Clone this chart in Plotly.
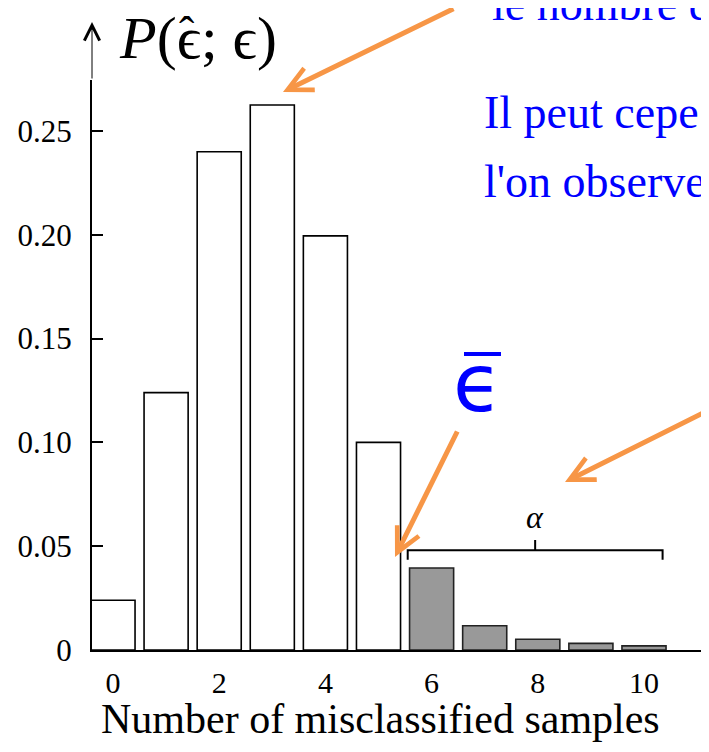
import plotly.graph_objects as go

# ---- data ----
counts = [0, 1, 2, 3, 4, 5, 6, 7, 8, 9, 10]
probs = [0.024, 0.124, 0.240, 0.2625, 0.1995, 0.100, 0.0395, 0.0117, 0.0052, 0.0032, 0.0020]
tail_start = 6
y_tickvals = [0, 0.05, 0.10, 0.15, 0.20, 0.25]
y_ticktext = ["0", "0.05", "0.10", "0.15", "0.20", "0.25"]
x_tickvals = [0, 2, 4, 6, 8, 10]
x_ticktext = ["0", "2", "4", "6", "8", "10"]

# the page body adds an 8px margin on each side: lay the figure out in screen pixels minus 8
S = 8
W, H = 709 - S, 752 - 2 * S
L, R, T = 92 - S, 0, 80 - S
B = H - (650 - S)
PW, PH = W - L - R, H - T - B

def px(x):
    return (x - S - L) / PW

def py(y):
    return (H - B - (y - S)) / PH

SERIF = "Liberation Serif, DejaVu Serif, serif"
ORANGE = "#F79646"
BLUE = "#0000FF"

body_x = [c for c, p in zip(counts, probs) if c < tail_start]
body_y = [p for c, p in zip(counts, probs) if c < tail_start]
tail_x = [c for c, p in zip(counts, probs) if c >= tail_start]
tail_y = [p for c, p in zip(counts, probs) if c >= tail_start]

fig = go.Figure()
fig.add_trace(go.Bar(x=body_x, y=body_y, width=0.83,
                     marker=dict(color="white", line=dict(color="black", width=1.6)),
                     showlegend=False, hoverinfo="skip"))
fig.add_trace(go.Bar(x=tail_x, y=tail_y, width=0.83,
                     marker=dict(color="#999999", line=dict(color="#222222", width=1.6)),
                     showlegend=False, hoverinfo="skip"))

# alpha bracket over the tail bars
bx0, bx1, bm = 5.55, 10.35, 7.95
by, bdown, bup = 0.048, 0.0435, 0.053
fig.add_shape(type="path",
              path=f"M {bx0},{bdown} L {bx0},{by} L {bx1},{by} L {bx1},{bdown} M {bm},{by} L {bm},{bup}",
              xref="x", yref="y", line=dict(color="black", width=2))

annotations = []
# alpha label
annotations.append(dict(x=bm, y=0.064, xref="x", yref="y", text="<i>α</i>", showarrow=False,
                        font=dict(family=SERIF, size=32, color="black")))
# y axis arrow extension
annotations.append(dict(x=px(92), y=py(22), ax=0, ay=58, xref="paper", yref="paper",
                        text="", showarrow=True, arrowhead=5, arrowsize=3, arrowwidth=1,
                        arrowcolor="black"))
# P label (hat drawn separately above the first epsilon)
annotations.append(dict(x=px(117), y=py(38), xref="paper", yref="paper", xanchor="left", yanchor="middle",
                        text="<i>P</i>(ϵ; ϵ)", showarrow=False,
                        font=dict(family=SERIF, size=60, color="black")))
annotations.append(dict(x=px(186), y=py(34), xref="paper", yref="paper", xanchor="center", yanchor="middle",
                        text="ˆ", showarrow=False,
                        font=dict(family=SERIF, size=46, color="black")))
# x axis title
annotations.append(dict(x=px(380), y=py(719), xref="paper", yref="paper", xanchor="center", yanchor="middle",
                        text="Number of misclassified samples", showarrow=False,
                        font=dict(family=SERIF, size=42, color="black")))
# blue text lines (cut by the right edge)
for txt, xl, yc in [("le nombre d", 490, 4), ("Il peut cepe", 482, 113), ("l'on observe", 482, 181)]:
    annotations.append(dict(x=px(xl), y=py(yc), xref="paper", yref="paper", xanchor="left", yanchor="middle",
                            text=txt, showarrow=False, font=dict(family=SERIF, size=46, color=BLUE)))
# epsilon bar
annotations.append(dict(x=px(477), y=py(383), xref="paper", yref="paper", xanchor="center", yanchor="middle",
                        text="ϵ", showarrow=False, font=dict(family="DejaVu Sans, sans-serif", size=80, color=BLUE)))
fig.add_shape(type="line", xref="paper", yref="paper", x0=px(464), x1=px(501), y0=py(354), y1=py(354),
              line=dict(color=BLUE, width=4))
# orange arrows
for hx, hy, ax, ay in [(283, 92, 172, -97), (395, 557, 63, -127), (565, 482, 147, -72)]:
    annotations.append(dict(x=px(hx), y=py(hy), ax=ax, ay=ay, xref="paper", yref="paper",
                            text="", showarrow=True, arrowhead=5, arrowsize=0.95, arrowwidth=5,
                            arrowcolor=ORANGE))

fig.update_layout(
    width=W, height=H,
    margin=dict(l=L, r=R, t=T, b=B),
    paper_bgcolor="white", plot_bgcolor="white",
    bargap=0.17,
    annotations=annotations,
    font=dict(family=SERIF, color="black"),
    xaxis=dict(range=[(92 - 113) / 53.1, (709 - 113) / 53.1], tickvals=x_tickvals, ticktext=x_ticktext,
               showgrid=False, zeroline=False, showline=True, linecolor="black", linewidth=2,
               ticks="", tickfont=dict(family=SERIF, size=30), ticklabelstandoff=5),
    yaxis=dict(range=[0, 570 / 2076], tickvals=y_tickvals, ticktext=y_ticktext,
               showgrid=False, zeroline=False, showline=True, linecolor="black", linewidth=2,
               ticks="inside", ticklen=11, tickwidth=2, tickcolor="black",
               tickfont=dict(family=SERIF, size=31), ticklabelstandoff=12),
)

fig.write_html("out.html")
